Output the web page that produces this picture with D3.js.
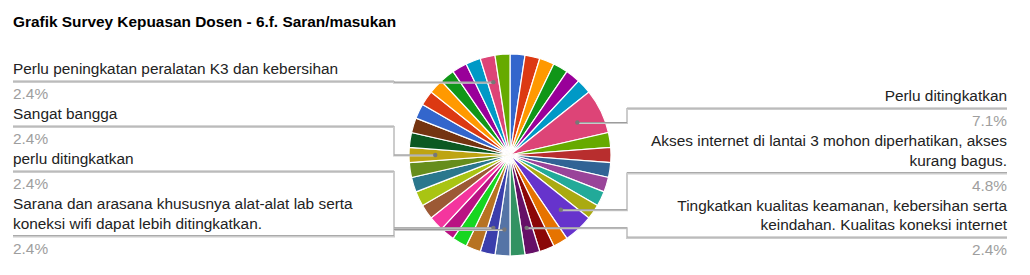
<!DOCTYPE html>
<html>
<head>
<meta charset="utf-8">
<script src="https://cdn.jsdelivr.net/npm/d3@7"></script>
<style>
  body { margin: 0; background: #fff; }
  svg { font-family: Arial, "Liberation Sans", sans-serif; }
</style>
</head>
<body>
<div id="chart"></div>
<script>
// Answers (only the ones with a visible label have text)
const categories = [
    null, null, null, null, null, null,
    "Perlu ditingkatkan",
    null, null, null, null, null, null,
    "Akses internet di lantai 3 mohon diperhatikan, akses kurang bagus.",
    null, null,
    "Tingkatkan kualitas keamanan, kebersihan serta keindahan. Kualitas koneksi internet",
    null,
    "Sarana dan arasana khususnya alat-alat lab serta koneksi wifi dapat lebih ditingkatkan.",
    "perlu ditingkatkan",
    null, null, null, null, null, null, null, null,
    "Sangat bangga",
    null, null, null, null, null, null, null, null,
    "Perlu peningkatan peralatan K3 dan kebersihan",
    null
];

// Number of respondents per answer
const values = [
    1, 1, 1, 1, 1, 1, 3, 1, 1, 1, 1, 1, 1, 2, 1, 1, 1, 1, 1, 1,
    1, 1, 1, 1, 1, 1, 1, 1, 1, 1, 1, 1, 1, 1, 1, 1, 1, 1, 1
];

const palette = [
    "#3366cc", "#dc3912", "#ff9900", "#109618", "#990099", "#0099c6", "#dd4477",
    "#66aa00", "#b82e2e", "#316395", "#994499", "#22aa99", "#aaaa11", "#6633cc",
    "#e67300", "#8b0707", "#651067", "#329262", "#5574a6", "#3b3eac", "#b77322",
    "#16d620", "#b91383", "#f4359e", "#9c5935", "#a9c413", "#2a778d", "#668d1c",
    "#bea413", "#0c5922", "#743411"
];

const chartTitle = "Grafik Survey Kepuasan Dosen - 6.f. Saran/masukan";

const width = 1030, height = 275;
const cx = 510, cy = 155, radius = 101;
const fontSize = "15.4px";

const svg = d3.select("#chart").append("svg")
    .attr("width", width)
    .attr("height", height);

svg.append("text")
    .attr("x", 13)
    .attr("y", 27)
    .attr("font-size", fontSize)
    .attr("font-weight", "bold")
    .attr("fill", "#000")
    .text(chartTitle);

const data = values.map((v, i) => ({ label: categories[i], value: v, index: i }));
const total = d3.sum(values);

const pie = d3.pie().sort(null).value(d => d.value);
const arc = d3.arc().innerRadius(0).outerRadius(radius);
const dotArc = d3.arc().innerRadius(radius * 0.74).outerRadius(radius * 0.74);
const color = d3.scaleOrdinal().domain(d3.range(values.length)).range(palette);

const g = svg.append("g").attr("transform", `translate(${cx},${cy})`);
const arcs = pie(data);

g.selectAll("path.slice")
    .data(arcs)
    .enter().append("path")
    .attr("class", "slice")
    .attr("d", arc)
    .attr("fill", d => color(d.data.index))
    .attr("stroke", "#fff")
    .attr("stroke-width", 1.2);

// labeled legend
const fmt = d3.format(".1%");
const labeled = arcs.filter(d => d.data.label).map(d => {
    const c = dotArc.centroid(d);
    return { arc: d, x: cx + c[0], y: cy + c[1], side: c[0] < 0 ? "left" : "right" };
});

const sides = {
    left:  { textX: 13,   lineX0: 13,   elbowX: 394, anchor: "start", top: 74 },
    right: { textX: 1007, lineX0: 1007, elbowX: 627, anchor: "end",   top: 101 }
};
const lineH = 19.5, maxW = 378;

function wrapText(text) {
    const probe = svg.append("text").attr("font-size", fontSize);
    const words = text.split(" ");
    const lines = [];
    let cur = "";
    words.forEach(w => {
        const test = cur ? cur + " " + w : w;
        probe.text(test);
        if (probe.node().getComputedTextLength() > maxW && cur) {
            lines.push(cur);
            cur = w;
        } else {
            cur = test;
        }
    });
    if (cur) lines.push(cur);
    probe.remove();
    return lines;
}

const line = d3.line();

["left", "right"].forEach(side => {
    const s = sides[side];
    const items = labeled.filter(d => d.side === side).sort((a, b) => a.y - b.y);
    let y = s.top;
    items.forEach(item => {
        const lines = wrapText(item.arc.data.label);
        lines.forEach((ln, i) => {
            svg.append("text")
                .attr("x", s.textX)
                .attr("y", y + i * lineH)
                .attr("text-anchor", s.anchor)
                .attr("font-size", fontSize)
                .attr("fill", "#222")
                .text(ln);
        });
        const lastY = y + (lines.length - 1) * lineH;
        const ly = lastY + 7.5;

        // connector from the slice to the underline
        const pts = [[s.lineX0, ly], [s.elbowX, ly], [s.elbowX, item.y], [item.x, item.y]];
        svg.append("path")
            .attr("d", line(pts.map(p => [p[0], p[1] + 0.5])))
            .attr("fill", "none")
            .attr("stroke", "#cccccc")
            .attr("stroke-width", 2);
        svg.append("path")
            .attr("d", line([[s.elbowX, item.y], [item.x, item.y]]))
            .attr("fill", "none")
            .attr("stroke", "#999")
            .attr("stroke-width", 1);
        svg.append("path")
            .attr("d", line([[s.lineX0, ly - 0.5], [s.elbowX, ly - 0.5]]))
            .attr("fill", "none")
            .attr("stroke", "#aaa")
            .attr("stroke-width", 1);
        svg.append("circle")
            .attr("cx", item.x)
            .attr("cy", item.y)
            .attr("r", 2.2)
            .attr("fill", "#777");

        svg.append("text")
            .attr("x", s.textX)
            .attr("y", ly + 17.5)
            .attr("text-anchor", s.anchor)
            .attr("font-size", fontSize)
            .attr("fill", "#9e9e9e")
            .text(fmt(item.arc.data.value / total));

        y = ly + 17.5 + 20;
    });
});
</script>
</body>
</html>
